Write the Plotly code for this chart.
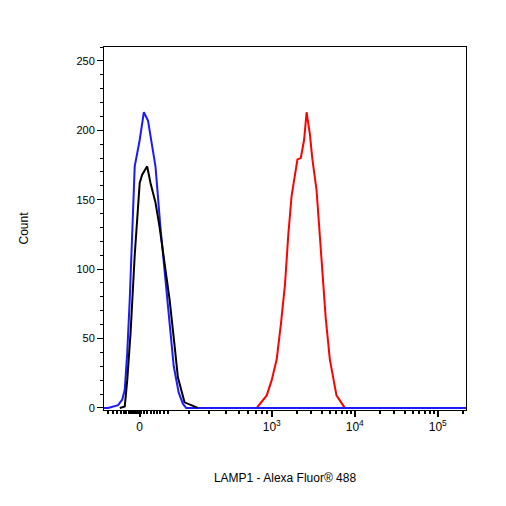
import numpy as np
import plotly.graph_objects as go

# x positions in display units (10^3 -> 3, 10^4 -> 4, 10^5 -> 5, "0" -> 1.41)
blue_x = [0.98, 1.03, 1.15, 1.20, 1.23, 1.26, 1.29, 1.32, 1.35, 1.41, 1.46, 1.51, 1.55, 1.60, 1.66, 1.72, 1.78, 1.82, 1.88, 1.93, 1.97, 5.34]
blue_y = [0, 0, 2, 6, 13, 40, 78, 130, 174, 193, 213, 207, 191, 174, 130, 90, 55, 30, 11, 3, 0, 0]
black_x = [1.17, 1.23, 1.26, 1.30, 1.35, 1.41, 1.44, 1.50, 1.54, 1.60, 1.65, 1.71, 1.77, 1.83, 1.87, 1.95, 2.11]
black_y = [0, 1, 20, 54, 110, 162, 168, 174, 162, 148, 130, 105, 78, 45, 22, 4, 0]
red_x = [2.82, 2.94, 3.00, 3.06, 3.11, 3.16, 3.20, 3.24, 3.31, 3.35, 3.39, 3.42, 3.46, 3.49, 3.54, 3.57, 3.60, 3.65, 3.70, 3.78, 3.88]
red_y = [0, 9, 20, 35, 60, 89, 125, 153, 179, 180, 193, 213, 197, 179, 157, 135, 107, 65, 35, 9, 0]

major_vals = [1.41, 3, 4, 5]
major_text = ["0", "10<sup>3</sup>", "10<sup>4</sup>", "10<sup>5</sup>"]
minor_vals = [1.03, 1.09, 1.14, 1.18, 1.22, 1.25, 1.28, 1.31, 1.33, 1.35, 1.37, 1.39, 1.43, 1.46,
              1.50, 1.54, 1.58, 1.62, 1.66, 1.70, 1.75, 2.0, 2.25, 2.45, 2.6, 2.72, 2.81, 2.88, 2.94]
minor_vals += [d + np.log10(k) for d in (3, 4) for k in range(2, 10)] + [5 + np.log10(2)]

fig = go.Figure()
fig.add_trace(go.Scatter(x=red_x, y=red_y, mode="lines", line=dict(color="#ff0000", width=2)))
fig.add_trace(go.Scatter(x=blue_x, y=blue_y, mode="lines", line=dict(color="#1a1aff", width=2)))
fig.add_trace(go.Scatter(x=black_x, y=black_y, mode="lines", line=dict(color="#000000", width=2)))

font = dict(family="Liberation Sans, Arial", size=11, color="black")
fig.update_layout(
    width=506, height=506, showlegend=False,
    plot_bgcolor="white", paper_bgcolor="white",
    margin=dict(l=96, r=48, t=39, b=104),
    font=font,
    xaxis=dict(range=[0.98, 5.34], tickmode="array", tickvals=major_vals, ticktext=major_text,
               ticks="outside", ticklen=6, tickwidth=1.5, tickcolor="black",
               minor=dict(tickmode="array", tickvals=minor_vals, ticks="outside", ticklen=3, tickcolor="black"),
               showline=True, linecolor="black", mirror=True, showgrid=False, zeroline=False,
               tickfont=dict(size=12),
               title=dict(text="LAMP1 - Alexa Fluor® 488", standoff=40, font=dict(size=12))),
    yaxis=dict(range=[-1.5, 260], tickvals=[0, 50, 100, 150, 200, 250],
               ticks="outside", ticklen=6, tickcolor="black",
               minor=dict(dtick=10, ticks="outside", ticklen=3, tickcolor="black"),
               showline=True, linecolor="black", mirror=True, showgrid=False, zeroline=False,
               title=dict(text="Count", standoff=45, font=dict(size=12))),
)
fig.write_html("out.html")
